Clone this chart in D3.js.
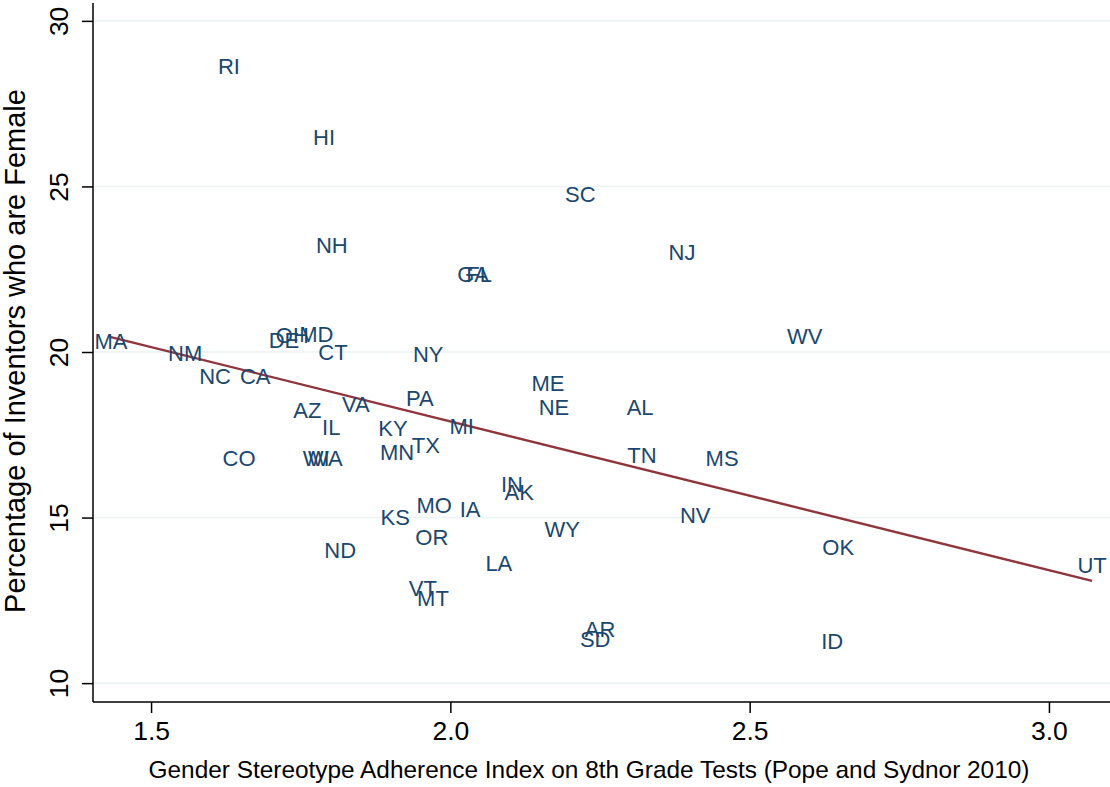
<!DOCTYPE html>
<html>
<head>
<meta charset="utf-8">
<script src="https://cdn.jsdelivr.net/npm/d3@7"></script>
<style>
  html, body { margin: 0; padding: 0; background: #fff; }
  svg { display: block; font-family: "Liberation Sans", Arial, sans-serif; }
</style>
</head>
<body>
<svg id="chart" width="1110" height="787"></svg>
<script>
// State abbreviations with the stereotype index (x) and share of female inventors (y, %)
const states = ["RI","HI","SC","NH","NJ","GA","FL","MA","NM","NC","CA","DE","OH","MD","CT","NY",
  "ME","NE","AL","PA","VA","AZ","IL","KY","MI","TX","MN","CO","WA","WI","TN","MS","WV","IN","AK",
  "MO","IA","KS","NV","WY","OR","OK","ND","LA","UT","VT","MT","AR","SD","ID"];
const stereotypeIndex = [1.630,1.789,2.217,1.802,2.387,2.038,2.048,1.433,1.557,1.607,1.674,1.722,1.736,1.776,1.804,1.963,
  2.163,2.173,2.317,1.949,1.842,1.761,1.801,1.904,2.019,1.959,1.911,1.647,1.791,1.776,2.320,2.454,2.592,2.103,2.115,
  1.973,2.033,1.908,2.409,2.187,1.969,2.648,1.816,2.081,3.072,1.954,1.971,2.250,2.242,2.638];
const femaleShare = [28.64,26.50,24.77,23.23,23.02,22.36,22.36,20.33,19.97,19.27,19.27,20.36,20.51,20.54,20.00,19.94,
  19.06,18.34,18.34,18.61,18.43,18.25,17.73,17.70,17.76,17.19,16.98,16.80,16.80,16.80,16.89,16.80,20.48,16.01,15.77,
  15.38,15.26,15.02,15.08,14.65,14.41,14.11,14.02,13.63,13.56,12.87,12.57,11.63,11.33,11.27];

// Linear fit endpoints (at the smallest and largest index values)
const fitX = [1.433, 3.072];
const fitY = [20.45, 13.09];

const xTicks = [1.5, 2.0, 2.5, 3.0];
const yTicks = [10, 15, 20, 25, 30];
const xTitle = "Gender Stereotype Adherence Index on 8th Grade Tests (Pope and Sydnor 2010)";
const yTitle = "Percentage of Inventors who are Female";

const svg = d3.select("#chart");
const plotLeft = 93, plotRight = 1110, plotTop = 3, plotBottom = 702;

const x = d3.scaleLinear().domain([1.403, 3.102]).range([plotLeft, plotRight]);
const y = d3.scaleLinear().domain([9.43, 30.54]).range([plotBottom, plotTop]);

// horizontal grid lines
svg.append("g").selectAll("line").data(yTicks).join("line")
  .attr("x1", plotLeft).attr("x2", plotRight)
  .attr("y1", d => y(d)).attr("y2", d => y(d))
  .attr("stroke", "#eaf2f3").attr("stroke-width", 1.6);

// y axis
const yAxis = svg.append("g").attr("transform", `translate(${plotLeft},0)`)
  .call(d3.axisLeft(y).tickValues(yTicks).tickFormat(d3.format("d")).tickSize(11).tickPadding(0));
yAxis.select(".domain").attr("d", `M0,${plotTop}V${plotBottom}`).attr("stroke", "#000").attr("stroke-width", 1.5);
yAxis.selectAll(".tick line").attr("stroke", "#000").attr("stroke-width", 1.5);
yAxis.selectAll(".tick text")
  .attr("x", null).attr("dy", null)
  .attr("transform", "translate(-25,0) rotate(-90)")
  .attr("text-anchor", "middle")
  .attr("font-size", 26.5).attr("fill", "#000")
  .attr("font-family", "Liberation Sans, Arial, sans-serif");

// x axis
const xAxis = svg.append("g").attr("transform", `translate(0,${plotBottom})`)
  .call(d3.axisBottom(x).tickValues(xTicks).tickFormat(d3.format(".1f")).tickSize(11).tickPadding(0));
xAxis.select(".domain").attr("d", `M${plotLeft},0H${plotRight}`).attr("stroke", "#000").attr("stroke-width", 1.5);
xAxis.selectAll(".tick line").attr("stroke", "#000").attr("stroke-width", 1.5);
xAxis.selectAll(".tick text")
  .attr("y", 38).attr("dy", null)
  .attr("font-size", 26.5).attr("fill", "#000")
  .attr("font-family", "Liberation Sans, Arial, sans-serif");

// axis titles
svg.append("text")
  .attr("x", 589).attr("y", 778)
  .attr("text-anchor", "middle")
  .attr("font-size", 24.4).attr("fill", "#000")
  .text(xTitle);
svg.append("text")
  .attr("transform", "translate(25,351) rotate(-90)")
  .attr("text-anchor", "middle")
  .attr("font-size", 29).attr("fill", "#000")
  .text(yTitle);

// fitted line
svg.append("path")
  .datum(d3.zip(fitX, fitY))
  .attr("d", d3.line().x(d => x(d[0])).y(d => y(d[1])))
  .attr("fill", "none").attr("stroke", "#90353b").attr("stroke-width", 2.4);

// state labels centred on each point
svg.append("g").selectAll("text").data(states).join("text")
  .attr("x", (d, i) => x(stereotypeIndex[i]))
  .attr("y", (d, i) => y(femaleShare[i]))
  .attr("dy", "0.36em")
  .attr("text-anchor", "middle")
  .attr("font-size", 22)
  .attr("fill", "#1a476f")
  .text(d => d);
</script>
</body>
</html>
